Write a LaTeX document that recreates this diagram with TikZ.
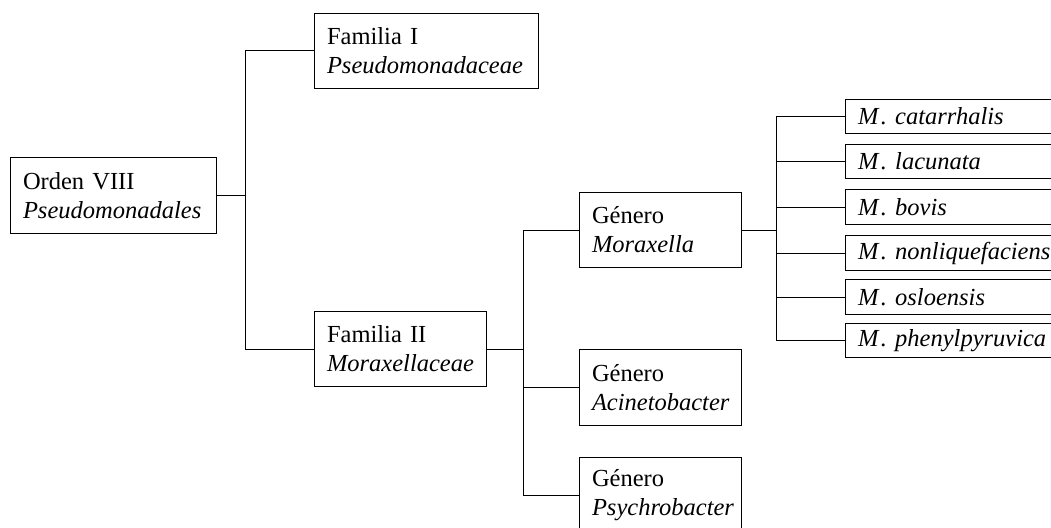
\documentclass[tikz,border=0pt]{standalone}
\usepackage{fontspec}
\setmainfont{Liberation Serif}
\hyphenpenalty=10000
\exhyphenpenalty=10000
\newcommand{\mspec}[1]{\textit{M\kern2.5pt. #1}}
\begin{document}
\begin{tikzpicture}[x=1pt,y=-1pt,line width=1pt,
  box/.style={draw, rectangle, anchor=north west, inner xsep=12.5pt, inner ysep=0pt,
    align=left, font=\fontsize{24.5}{29}\selectfont},
  link/.style={draw, line width=1pt}]
\useasboundingbox (0,0) rectangle (1051,527);
\clip (0,0) rectangle (1051,527);
% nodes
\node[box, text width=181pt, minimum height=76pt] (orden) at (10,157) {Orden VIII\\\textit{Pseudomonadales}};
\node[box, text width=199pt, minimum height=75pt] (fam1) at (314,13) {Familia I\\\textit{Pseudomonadaceae}};
\node[box, text width=147pt, minimum height=75pt] (fam2) at (314,311) {Familia II\\\textit{Moraxellaceae}};
\node[box, text width=137pt, minimum height=75pt] (mor) at (579,192) {Género\\\textit{Moraxella}};
\node[box, text width=137pt, minimum height=76pt] (aci) at (579,349) {Género\\\textit{Acinetobacter}};
\node[box, text width=137pt, minimum height=75pt] (psy) at (579,457) {Género\\\textit{Psychrobacter}};
\node[box, text width=200pt, minimum height=34pt] (s1) at (845,99) {\mspec{catarrhalis}};
\node[box, text width=200pt, minimum height=34pt] (s2) at (845,144) {\mspec{lacunata}};
\node[box, text width=200pt, minimum height=35pt] (s3) at (845,189) {\mspec{bovis}};
\node[box, text width=200pt, minimum height=35pt] (s4) at (845,235) {\mspec{nonliquefaciens}};
\node[box, text width=200pt, minimum height=35pt] (s5) at (845,279) {\mspec{osloensis}};
\node[box, text width=200pt, minimum height=34pt] (s6) at (845,323) {\mspec{phenylpyruvica}};
% trunk positions
\coordinate (t1) at (245,0);
\coordinate (t2) at (523,0);
\coordinate (t3) at (776,0);
% connectors
\draw[link] (orden.east) -- (orden.east -| t1);
\draw[link] (fam1.west) -- (fam1.west -| t1) -- (fam2.west -| t1) -- (fam2.west);
\draw[link] (fam2.east) -- (fam2.east -| t2);
\draw[link] (mor.west) -- (mor.west -| t2) -- (psy.west -| t2) -- (psy.west);
\draw[link] (aci.west) -- (aci.west -| t2);
\draw[link] (mor.east) -- (mor.east -| t3);
\draw[link] (s1.west) -- (s1.west -| t3) -- (s6.west -| t3) -- (s6.west);
\draw[link] (s2.west) -- (s2.west -| t3);
\draw[link] (s3.west) -- (s3.west -| t3);
\draw[link] (s4.west) -- (s4.west -| t3);
\draw[link] (s5.west) -- (s5.west -| t3);
\end{tikzpicture}
\end{document}
